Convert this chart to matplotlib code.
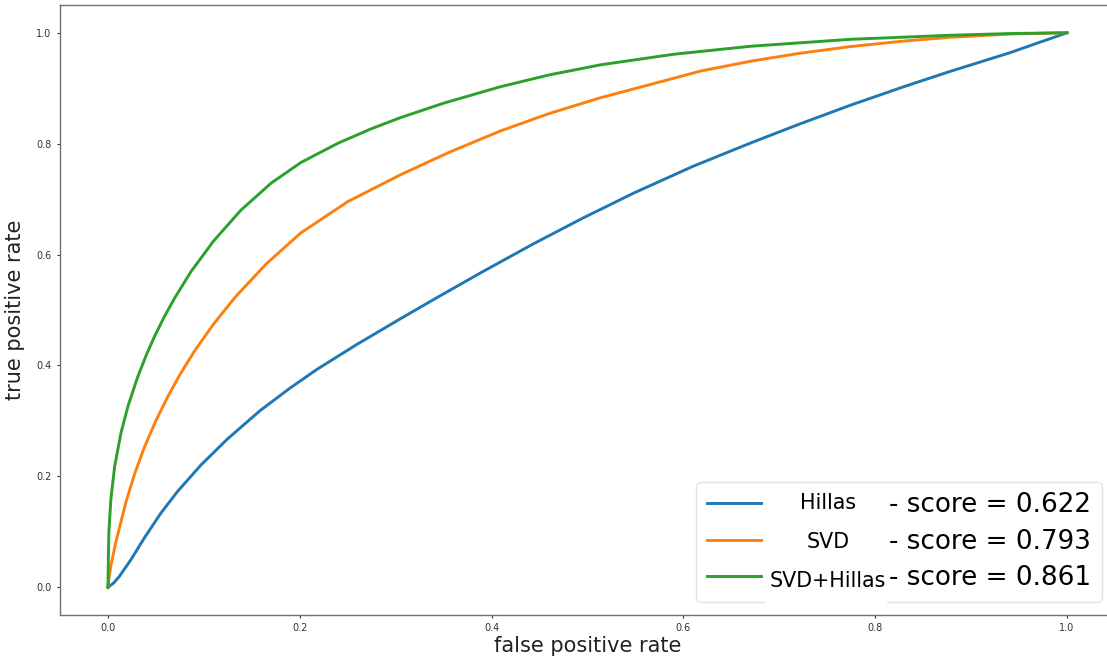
import matplotlib
matplotlib.use("Agg")
import matplotlib.pyplot as plt
from matplotlib.patches import Rectangle

# ---- data ----
hillas_fpr = [0, 0.006, 0.0118, 0.024, 0.038, 0.055, 0.0726, 0.097, 0.1245, 0.159, 0.19, 0.218,
              0.26, 0.305, 0.343, 0.39, 0.444, 0.495, 0.548, 0.61, 0.67, 0.72, 0.774, 0.83,
              0.878, 0.94, 1.0]
hillas_tpr = [0, 0.0078, 0.0194, 0.0499, 0.0891, 0.1333, 0.1729, 0.2205, 0.2673, 0.3191, 0.3594,
              0.393, 0.4384, 0.4843, 0.5223, 0.5684, 0.6197, 0.6656, 0.7107, 0.7591, 0.8011,
              0.8346, 0.8692, 0.9028, 0.9302, 0.9637, 1.0]

svd_fpr = [0, 0.001, 0.003, 0.008, 0.0188, 0.028, 0.0378, 0.05, 0.0621, 0.075, 0.09, 0.11,
           0.133, 0.165, 0.201, 0.25, 0.305, 0.355, 0.409, 0.46, 0.5135, 0.565, 0.618, 0.67,
           0.72, 0.774, 0.83, 0.878, 0.94, 1.0]
svd_tpr = [0, 0.015, 0.038, 0.08, 0.154, 0.2055, 0.2516, 0.3004, 0.3428, 0.3834, 0.4254, 0.4744,
           0.5239, 0.5831, 0.6389, 0.6954, 0.7438, 0.7838, 0.8227, 0.8543, 0.8827, 0.9064,
           0.9309, 0.9486, 0.9626, 0.975, 0.985, 0.9917, 0.9976, 1.0]

both_fpr = [0, 0.0005, 0.001, 0.003, 0.007, 0.0135, 0.021, 0.031, 0.04, 0.0483, 0.058, 0.069,
            0.0865, 0.11, 0.1385, 0.17, 0.201, 0.24, 0.274, 0.305, 0.35, 0.409, 0.46, 0.5135,
            0.59, 0.67, 0.774, 0.878, 0.94, 1.0]
both_tpr = [0, 0.06, 0.1, 0.158, 0.218, 0.2778, 0.3273, 0.3793, 0.4189, 0.4513, 0.4853, 0.52,
            0.569, 0.6242, 0.6798, 0.7286, 0.7658, 0.8009, 0.8264, 0.8469, 0.873, 0.9025,
            0.9239, 0.9421, 0.9612, 0.9756, 0.9881, 0.9954, 0.9985, 1.0]

names = ["Hillas", "SVD", "SVD+Hillas"]
scores = [0.622, 0.793, 0.861]
colors = ["#1f77b4", "#ff7f0e", "#2ca02c"]
ticks = [0.0, 0.2, 0.4, 0.6, 0.8, 1.0]

W, H = 1107, 657
fig = plt.figure(figsize=(W / 100, H / 100), dpi=100)
ax = fig.add_axes([60 / W, 42 / H, 1055 / W, 610 / H])

series = [(hillas_fpr, hillas_tpr), (svd_fpr, svd_tpr), (both_fpr, both_tpr)]
handles = []
for (fx, ty), c in zip(series, colors):
    ln, = ax.plot(fx, ty, color=c, lw=2.1, solid_joinstyle="round")
    handles.append(ln)

ax.set_xlim(-0.05, 1.05)
ax.set_ylim(-0.05, 1.05)
ax.set_xticks(ticks)
ax.set_yticks(ticks)
ax.tick_params(labelsize=7, length=2.5, width=0.8, colors="#333333", labelcolor="#333333")
for s in ax.spines.values():
    s.set_color("#707070")
    s.set_linewidth(1.0)

ax.set_xlabel("false positive rate", fontsize=15, color="#222222", labelpad=2)
ax.set_ylabel("true positive rate", fontsize=15, color="#222222", labelpad=8)

labels = ["- score = %.3f" % s for s in scores]
leg = ax.legend(handles, labels, loc="lower right", fontsize=18.9,
                handlelength=2.05, handletextpad=4.9, labelspacing=0.4,
                borderpad=0.4, framealpha=0.8, edgecolor="#dddddd")

# white cover (table-like cells behind the names in the reference)
fig.add_artist(Rectangle((765 / W, 1 - 607 / H), 122 / W, 45 / H,
                         transform=fig.transFigure, facecolor="white",
                         edgecolor="none", zorder=5))
name_base = [509, 548, 587]
for n, yb in zip(names, name_base):
    fig.text(828 / W, 1 - yb / H, n, ha="center", va="baseline",
             fontsize=14.9, color="black", zorder=6)

fig.savefig("out.png", dpi=100)
